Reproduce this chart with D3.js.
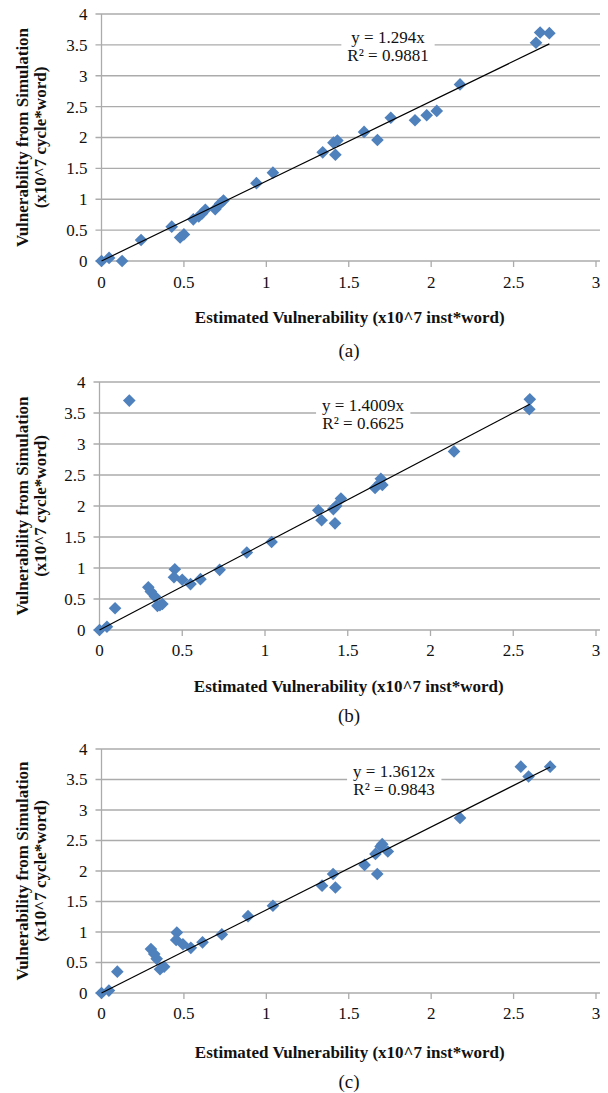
<!DOCTYPE html>
<html><head><meta charset="utf-8">
<script src="https://cdn.jsdelivr.net/npm/d3@7"></script>
<style>
html,body{margin:0;padding:0;background:#fff;}
svg{display:block;}
</style></head>
<body>
<svg id="chart" width="608" height="1093" font-family="'Times New Roman', 'Liberation Serif', 'DejaVu Serif', serif"></svg>
<script>
const xTicks = [0, 0.5, 1, 1.5, 2, 2.5, 3];
const yTicks = [0, 0.5, 1, 1.5, 2, 2.5, 3, 3.5, 4];
const xTitle = "Estimated Vulnerability (x10^7 inst*word)";
const yTitle1 = "Vulnerability from Simulation";
const yTitle2 = "(x10^7 cycle*word)";
const panelLabels = ["(a)", "(b)", "(c)"];
const slopes = [1.294, 1.4009, 1.3612];
const slopeText = ["y = 1.294x", "y = 1.4009x", "y = 1.3612x"];
const r2Text = ["R² = 0.9881", "R² = 0.6625", "R² = 0.9843"];

const aX = [0, 0.046, 0.125, 0.24, 0.426, 0.477, 0.50, 0.557, 0.59, 0.61, 0.63, 0.69, 0.72, 0.74, 0.94, 1.04,
            1.342, 1.407, 1.431, 1.419, 1.593, 1.674, 1.755, 1.902, 1.973, 2.034, 2.175, 2.636, 2.661, 2.717];
const aY = [0, 0.05, 0, 0.34, 0.556, 0.38, 0.43, 0.675, 0.72, 0.77, 0.83, 0.84, 0.93, 0.98, 1.26, 1.43,
            1.76, 1.916, 1.95, 1.72, 2.09, 1.96, 2.32, 2.28, 2.36, 2.43, 2.86, 3.535, 3.70, 3.69];

const bX = [0, 0.045, 0.094, 0.18, 0.295, 0.31, 0.335, 0.35, 0.38, 0.365, 0.455, 0.45, 0.50, 0.55, 0.61, 0.726, 0.89, 1.04,
            1.322, 1.342, 1.413, 1.423, 1.43, 1.459, 1.665, 1.695, 1.70, 1.709, 2.142, 2.60, 2.597];
const bY = [0, 0.053, 0.35, 3.70, 0.69, 0.62, 0.54, 0.39, 0.42, 0.40, 0.98, 0.85, 0.81, 0.74, 0.82, 0.97, 1.25, 1.42,
            1.93, 1.77, 1.95, 1.72, 2.0, 2.12, 2.29, 2.37, 2.44, 2.34, 2.88, 3.72, 3.56];

const cX = [0, 0.045, 0.096, 0.30, 0.32, 0.335, 0.355, 0.38, 0.457, 0.453, 0.494, 0.542, 0.613, 0.73, 0.889, 1.04,
            1.338, 1.405, 1.419, 1.596, 1.673, 1.662, 1.693, 1.703, 1.737, 2.175, 2.544, 2.591, 2.722];
const cY = [0, 0.04, 0.35, 0.72, 0.64, 0.56, 0.39, 0.43, 0.99, 0.87, 0.80, 0.74, 0.83, 0.96, 1.26, 1.43,
            1.76, 1.95, 1.73, 2.10, 1.95, 2.28, 2.40, 2.44, 2.32, 2.87, 3.71, 3.55, 3.71];

const seriesX = [aX, bX, cX];
const seriesY = [aY, bY, cY];

const layout = [
  {x0: 101.5, x1: 596, yTop: 14, yBot: 261, tickY: 282, titleY: 323, labY: 357, eqX: 388, eqY: 37},
  {x0: 99.5,  x1: 596, yTop: 382, yBot: 630, tickY: 650, titleY: 692, labY: 722, eqX: 363, eqY: 405},
  {x0: 101.5, x1: 596, yTop: 749, yBot: 993, tickY: 1013, titleY: 1058, labY: 1088, eqX: 394, eqY: 771}
];

const svg = d3.select("#chart");
const blue = "#4F81BD";
const grid = "#ababab";

layout.forEach((L, i) => {
  const g = svg.append("g");
  const x = d3.scaleLinear().domain([0, 3]).range([L.x0, L.x1]);
  const y = d3.scaleLinear().domain([0, 4]).range([L.yBot, L.yTop]);

  g.append("g").selectAll("line").data(yTicks).join("line")
    .attr("x1", L.x0 - 6).attr("x2", L.x1 + 4)
    .attr("y1", d => y(d)).attr("y2", d => y(d))
    .attr("stroke", grid).attr("stroke-width", 1.3);

  g.append("line").attr("x1", L.x0).attr("x2", L.x0).attr("y1", y(4)).attr("y2", y(0))
    .attr("stroke", grid).attr("stroke-width", 1.3);

  g.append("g").selectAll("line").data(xTicks).join("line")
    .attr("x1", d => x(d)).attr("x2", d => x(d))
    .attr("y1", y(0)).attr("y2", y(0) + 6)
    .attr("stroke", grid).attr("stroke-width", 1.3);

  g.append("g").selectAll("text").data(yTicks).join("text")
    .attr("x", L.x0 - 14).attr("y", d => y(d)).attr("dy", "0.35em")
    .attr("text-anchor", "end").attr("font-size", 17).attr("fill", "#111").text(d => d);

  g.append("g").selectAll("text").data(xTicks).join("text")
    .attr("x", d => x(d)).attr("y", L.tickY).attr("dy", "0.35em")
    .attr("text-anchor", "middle").attr("font-size", 17).attr("fill", "#111").text(d => d);

  g.append("text").attr("x", (L.x0 + L.x1) / 2 + 1).attr("y", L.titleY)
    .attr("text-anchor", "middle").attr("font-size", 17).attr("font-weight", "bold").attr("fill", "#111").text(xTitle);
  const yc = (L.yTop + L.yBot) / 2;
  g.append("text").attr("transform", `translate(28,${yc}) rotate(-90)`)
    .attr("text-anchor", "middle").attr("font-size", 17).attr("font-weight", "bold").attr("fill", "#111").text(yTitle1);
  g.append("text").attr("transform", `translate(46,${yc}) rotate(-90)`)
    .attr("text-anchor", "middle").attr("font-size", 17).attr("font-weight", "bold").attr("fill", "#111").text(yTitle2);

  g.append("text").attr("x", 349).attr("y", L.labY).attr("text-anchor", "middle")
    .attr("font-size", 19).attr("fill", "#111").text(panelLabels[i]);

  const pts = seriesX[i].map((v, k) => [v, seriesY[i][k]]);
  const sym = d3.symbol().type(d3.symbolSquare).size(80);
  g.append("g").selectAll("path").data(pts).join("path")
    .attr("d", sym)
    .attr("transform", d => `translate(${x(d[0])},${y(d[1])}) rotate(45)`)
    .attr("fill", blue);

  const xmax = d3.max(seriesX[i]);
  g.append("line")
    .attr("x1", x(0)).attr("y1", y(0))
    .attr("x2", x(xmax)).attr("y2", y(slopes[i] * xmax))
    .attr("stroke", "#000").attr("stroke-width", 1.2);

  const eg = g.append("g");
  const t1 = eg.append("text").attr("x", L.eqX).attr("y", L.eqY).attr("dy", "0.35em")
    .attr("text-anchor", "middle").attr("font-size", 17).attr("fill", "#111").text(slopeText[i]);
  const t2 = eg.append("text").attr("x", L.eqX).attr("y", L.eqY + 18.5).attr("dy", "0.35em")
    .attr("text-anchor", "middle").attr("font-size", 17).attr("fill", "#111").text(r2Text[i]);
  const b1 = t1.node().getBBox(), b2 = t2.node().getBBox();
  const bx0 = Math.min(b1.x, b2.x) - 6, bx1 = Math.max(b1.x + b1.width, b2.x + b2.width) + 6;
  eg.insert("rect", "text").attr("x", bx0).attr("y", b1.y).attr("width", bx1 - bx0)
    .attr("height", b2.y + b2.height - b1.y).attr("fill", "#fff");
});
</script>
</body></html>
